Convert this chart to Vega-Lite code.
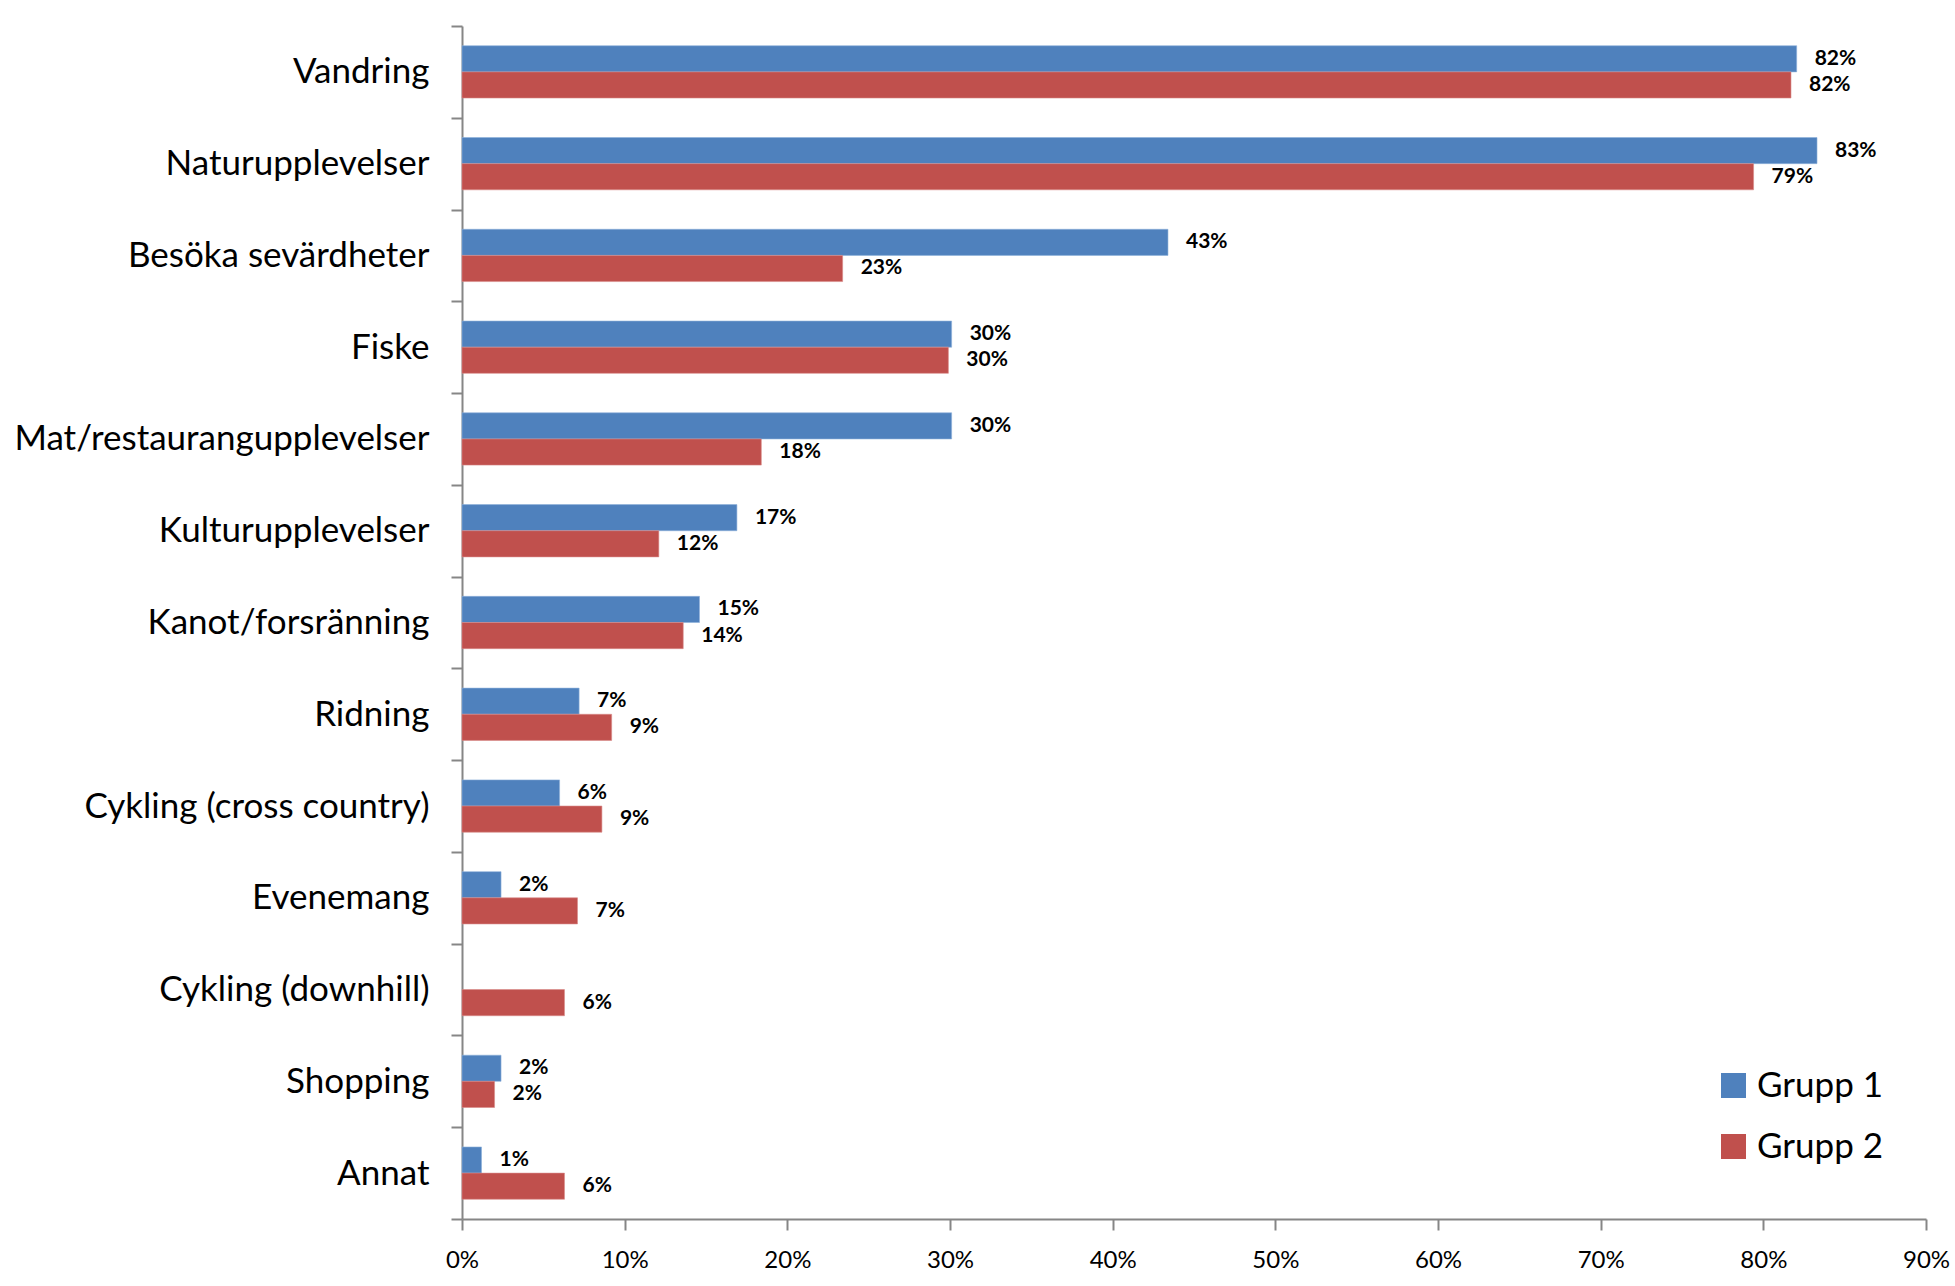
{
  "$schema": "https://vega.github.io/schema/vega-lite/v6.json",
  "autosize": {"type": "none"},
  "padding": {"left": 462, "top": 26, "right": 29, "bottom": 67},
  "width": 1464,
  "height": 1193,
  "background": "white",
  "config": {
    "view": {"stroke": null},
    "font": "Lato"
  },
  "data": {
    "values": [
      {"aktivitet": "Vandring", "grupp": "Grupp 1", "andel": 0.8205},
      {"aktivitet": "Vandring", "grupp": "Grupp 2", "andel": 0.817},
      {"aktivitet": "Naturupplevelser", "grupp": "Grupp 1", "andel": 0.833},
      {"aktivitet": "Naturupplevelser", "grupp": "Grupp 2", "andel": 0.794},
      {"aktivitet": "Besöka sevärdheter", "grupp": "Grupp 1", "andel": 0.434},
      {"aktivitet": "Besöka sevärdheter", "grupp": "Grupp 2", "andel": 0.234},
      {"aktivitet": "Fiske", "grupp": "Grupp 1", "andel": 0.301},
      {"aktivitet": "Fiske", "grupp": "Grupp 2", "andel": 0.299},
      {"aktivitet": "Mat/restaurangupplevelser", "grupp": "Grupp 1", "andel": 0.301},
      {"aktivitet": "Mat/restaurangupplevelser", "grupp": "Grupp 2", "andel": 0.184},
      {"aktivitet": "Kulturupplevelser", "grupp": "Grupp 1", "andel": 0.169},
      {"aktivitet": "Kulturupplevelser", "grupp": "Grupp 2", "andel": 0.121},
      {"aktivitet": "Kanot/forsränning", "grupp": "Grupp 1", "andel": 0.146},
      {"aktivitet": "Kanot/forsränning", "grupp": "Grupp 2", "andel": 0.136},
      {"aktivitet": "Ridning", "grupp": "Grupp 1", "andel": 0.072},
      {"aktivitet": "Ridning", "grupp": "Grupp 2", "andel": 0.092},
      {"aktivitet": "Cykling (cross country)", "grupp": "Grupp 1", "andel": 0.060},
      {"aktivitet": "Cykling (cross country)", "grupp": "Grupp 2", "andel": 0.086},
      {"aktivitet": "Evenemang", "grupp": "Grupp 1", "andel": 0.024},
      {"aktivitet": "Evenemang", "grupp": "Grupp 2", "andel": 0.071},
      {"aktivitet": "Cykling (downhill)", "grupp": "Grupp 2", "andel": 0.063},
      {"aktivitet": "Shopping", "grupp": "Grupp 1", "andel": 0.024},
      {"aktivitet": "Shopping", "grupp": "Grupp 2", "andel": 0.020},
      {"aktivitet": "Annat", "grupp": "Grupp 1", "andel": 0.012},
      {"aktivitet": "Annat", "grupp": "Grupp 2", "andel": 0.063}
    ]
  },
  "encoding": {
    "y": {
      "field": "aktivitet",
      "type": "nominal",
      "sort": ["Vandring", "Naturupplevelser", "Besöka sevärdheter", "Fiske", "Mat/restaurangupplevelser", "Kulturupplevelser", "Kanot/forsränning", "Ridning", "Cykling (cross country)", "Evenemang", "Cykling (downhill)", "Shopping", "Annat"],
      "scale": {"paddingInner": 0, "paddingOuter": 0},
      "axis": {
        "title": null,
        "tickBand": "extent",
        "tickSize": 11,
        "tickColor": "#868686",
        "tickWidth": 2,
        "domainColor": "#868686",
        "domainWidth": 2,
        "labelFont": "Lato",
        "labelFontSize": 35,
        "labelColor": "#000000",
        "labelPadding": 22,
        "labelLimit": 0
      }
    },
    "yOffset": {
      "field": "grupp",
      "type": "nominal",
      "scale": {"domain": ["Grupp 1", "Grupp 2"], "paddingInner": 0, "paddingOuter": 0.755}
    },
    "x": {
      "field": "andel",
      "type": "quantitative",
      "scale": {"domain": [0, 0.9], "nice": false, "zero": true},
      "axis": {
        "title": null,
        "values": [0, 0.1, 0.2, 0.3, 0.4, 0.5, 0.6, 0.7, 0.8, 0.9],
        "format": ".0%",
        "grid": false,
        "tickSize": 11,
        "tickColor": "#868686",
        "tickWidth": 2,
        "domainColor": "#868686",
        "domainWidth": 2,
        "labelFont": "Lato",
        "labelFontSize": 24,
        "labelColor": "#000000",
        "labelPadding": 18,
        "labelFlush": false
      }
    }
  },
  "layer": [
    {
      "mark": {"type": "bar", "strokeWidth": 1, "strokeOpacity": 0.6},
      "encoding": {
        "color": {
          "field": "grupp",
          "type": "nominal",
          "scale": {"domain": ["Grupp 1", "Grupp 2"], "range": ["#4F81BD", "#C0504D"]},
          "legend": {
            "title": null,
            "orient": "none",
            "legendX": 1254,
            "legendY": 1042,
            "padding": 0,
            "symbolType": "square",
            "symbolSize": 625,
            "symbolStrokeWidth": 0,
            "labelFont": "Lato",
            "labelFontSize": 35,
            "labelColor": "#000000",
            "labelOffset": 6,
            "rowPadding": 25
          }
        },
        "stroke": {
          "field": "grupp",
          "type": "nominal",
          "scale": {"domain": ["Grupp 1", "Grupp 2"], "range": ["#8EB0DB", "#D98A88"]},
          "legend": null
        }
      }
    },
    {
      "mark": {"type": "text", "align": "left", "baseline": "middle", "dx": 18, "font": "Lato", "fontWeight": "bold", "fontSize": 21, "color": "#000000"},
      "encoding": {
        "text": {"field": "andel", "type": "quantitative", "format": ".0%"}
      }
    }
  ]
}
